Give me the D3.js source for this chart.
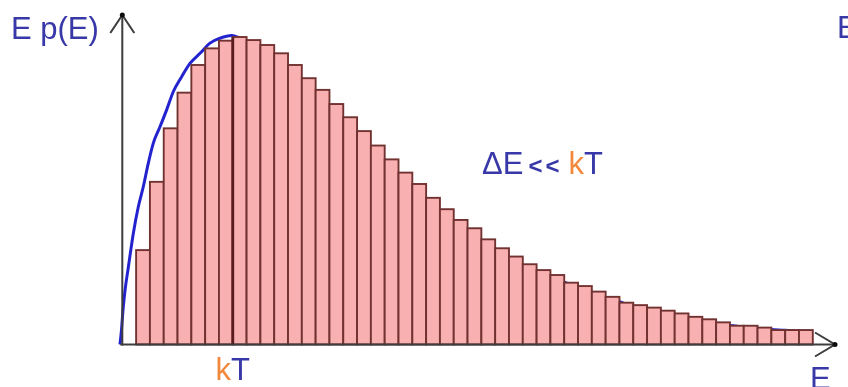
<!DOCTYPE html>
<html>
<head>
<meta charset="utf-8">
<script src="https://cdn.jsdelivr.net/npm/d3@7"></script>
<style>
  html, body { margin: 0; padding: 0; background: #ffffff; }
  svg { display: block; }
  text { font-family: "Liberation Sans", Arial, sans-serif; }
</style>
</head>
<body>
<svg id="chart" width="848" height="387"></svg>
<script>
// ---- data (energy measured in bins of width ΔE; kT = 8 ΔE) ----
const binIndex = d3.range(1, 50);              // bars 1..49, bar i spans [i, i+1]
const barValues = [
  0.307, 0.529, 0.703, 0.819, 0.909, 0.963, 0.988, 1.000, 0.990, 0.974,
  0.947, 0.909, 0.866, 0.828, 0.782, 0.739, 0.694, 0.647, 0.602, 0.559,
  0.522, 0.477, 0.440, 0.405, 0.378, 0.342, 0.313, 0.286, 0.261, 0.242,
  0.226, 0.201, 0.190, 0.172, 0.155, 0.136, 0.128, 0.120, 0.110, 0.101,
  0.090, 0.082, 0.072, 0.061, 0.061, 0.055, 0.047, 0.047, 0.047
];
const curveE = [
  -0.17, -0.06, 0.05, 0.2, 0.43, 0.80, 1.16, 1.52, 1.88, 2.24, 2.73, 3.21, 3.69,
  4.30, 4.90, 5.63, 6.35, 7.07, 7.92,
  9, 10, 11, 12, 13, 14, 15, 16, 17, 18, 19, 20, 21, 22, 23, 24, 25, 26, 27, 28,
  29, 30, 31, 32, 33, 34, 35, 36, 37, 38, 39, 40, 41, 42, 43, 44, 45, 46, 47, 48, 49, 50
];
const curveV = [
  0, 0.047, 0.112, 0.177, 0.249, 0.362, 0.448, 0.513, 0.589, 0.654, 0.708, 0.763, 0.822,
  0.871, 0.914, 0.947, 0.980, 0.996, 1.005,
  0.986, 0.970, 0.943, 0.905, 0.862, 0.824, 0.778, 0.735, 0.690, 0.643, 0.598, 0.555,
  0.518, 0.473, 0.436, 0.401, 0.374, 0.338, 0.309, 0.282, 0.257, 0.238, 0.222, 0.203,
  0.186, 0.168, 0.153, 0.139, 0.124, 0.115, 0.105, 0.096, 0.086, 0.078, 0.068, 0.062,
  0.057, 0.051, 0.049, 0.046, 0.044, 0.041
];
const kTBin = 8;
const yLabel = "E p(E)";
const xLabel = "E";
const noteMain = "ΔE";
const noteOp = "<<";

// ---- scales ----
const svg = d3.select("#chart");
const defs = svg.append("defs");
defs.append("filter").attr("id", "soft")
  .attr("x", "-5%").attr("y", "-5%").attr("width", "110%").attr("height", "110%")
  .append("feGaussianBlur").attr("stdDeviation", 0.55);

const root = svg.append("g").attr("filter", "url(#soft)");

const x = d3.scaleLinear().domain([0, 50]).range([122.3, 812.8]);
const y = d3.scaleLinear().domain([0, 1]).range([344.5, 37]);

const blue = "#2424cf";
const textBlue = "#3838a8";
const orange = "#f2883a";

// ---- curve (drawn under the bars) ----
const curvePts = curveE.map((e, i) => [e, curveV[i]]);
root.append("path")
  .datum(curvePts)
  .attr("d", d3.line().x(d => x(d[0])).y(d => y(d[1])).curve(d3.curveMonotoneX))
  .attr("fill", "none")
  .attr("stroke", blue)
  .attr("stroke-width", 3);

// ---- bars ----
root.append("g").selectAll("rect")
  .data(binIndex)
  .join("rect")
  .attr("x", d => x(d))
  .attr("y", (d, i) => y(barValues[i]))
  .attr("width", d => x(d + 1) - x(d))
  .attr("height", (d, i) => y(0) - y(barValues[i]))
  .attr("fill", "#f9b0b0")
  .attr("stroke", "#723232")
  .attr("stroke-width", 1.9);

// kT marker line
root.append("line")
  .attr("x1", x(kTBin)).attr("x2", x(kTBin))
  .attr("y1", y(0)).attr("y2", y(barValues[kTBin - 1]))
  .attr("stroke", "#5a1a1a")
  .attr("stroke-width", 2.8);

// ---- axes ----
const axisColor = "#3c3c3c";
const x0 = x(0), y0 = y(0);
root.append("line").attr("x1", x0).attr("x2", x0).attr("y1", y0 + 1).attr("y2", 15)
  .attr("stroke", axisColor).attr("stroke-width", 2);
root.append("line").attr("x1", x0 - 2).attr("x2", 835).attr("y1", y0).attr("y2", y0)
  .attr("stroke", axisColor).attr("stroke-width", 2);
root.append("path").attr("d", `M${x0 - 12},${33} L${x0},${15} L${x0 + 12},${33}`)
  .attr("fill", "none").attr("stroke", axisColor).attr("stroke-width", 2);
root.append("path").attr("d", `M815,${y0 - 12} L835,${y0} L815,${y0 + 12}`)
  .attr("fill", "none").attr("stroke", axisColor).attr("stroke-width", 2);
root.append("circle").attr("cx", x0).attr("cy", 15).attr("r", 2.5).attr("fill", "#111");
root.append("circle").attr("cx", 835).attr("cy", y0).attr("r", 2.5).attr("fill", "#111");

// ---- labels ----
root.append("text").attr("x", 11).attr("y", 38.5)
  .attr("font-size", 31).attr("fill", textBlue).text(yLabel);
root.append("text").attr("x", 837).attr("y", 38)
  .attr("font-size", 31).attr("fill", textBlue).text(xLabel);
root.append("text").attr("x", 810).attr("y", 389)
  .attr("font-size", 31).attr("fill", textBlue).text(xLabel);

const kt = root.append("text").attr("x", x(kTBin)).attr("y", 380)
  .attr("font-size", 31).attr("text-anchor", "middle");
kt.append("tspan").attr("fill", orange).text("k");
kt.append("tspan").attr("fill", textBlue).text("T");

const note = root.append("text").attr("x", 482).attr("y", 174)
  .attr("font-size", 31).attr("fill", textBlue);
note.append("tspan").text(noteMain);
note.append("tspan").attr("font-size", 24).attr("font-weight", "bold").attr("dx", 5).attr("letter-spacing", 3).text(noteOp);
note.append("tspan").attr("dx", 6).attr("fill", orange).text("k");
note.append("tspan").text("T");
</script>
</body>
</html>
